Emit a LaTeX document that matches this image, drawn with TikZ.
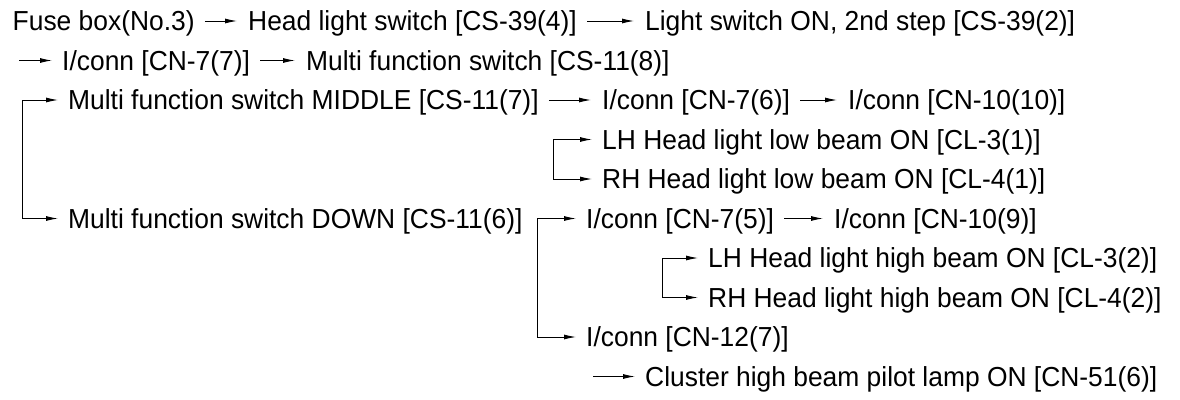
\documentclass[tikz,border=0pt]{standalone}
\usepackage{fontspec}
\setmainfont{Liberation Sans}[FakeStretch=0.96]
\usetikzlibrary{arrows.meta}
\begin{document}
\begin{tikzpicture}[x=1pt,y=-1pt,
  lbl/.style={inner sep=0pt,anchor=west,text height=19.6pt,text depth=0pt,font=\fontsize{27.5}{31}\selectfont},
  arr/.style={draw=black,line width=0.9pt,-{Latex[length=12pt,width=5pt]}},
  flow/.style={arr,shorten <=10pt,shorten >=11pt},
  tap/.style={arr,shorten >=10pt}]
\useasboundingbox (0,0) rectangle (1180,399);
\def\ya{21}\def\yb{60.5}\def\yc{100}\def\yd{139.5}\def\ye{179}
\def\yf{218.5}\def\yg{258}\def\yh{297.5}\def\yi{337}\def\yj{376.5}
% row 1
\node[lbl] (fuse) at (12.5,\ya) {Fuse box(No.3)};
\node[lbl] (hls) at (248,\ya) {Head light switch [CS-39(4)]};
\node[lbl] (lson) at (645,\ya) {Light switch ON, 2nd step [CS-39(2)]};
% row 2
\coordinate (s2) at (19,\yb);
\node[lbl] (c77) at (62,\yb) {I/conn [CN-7(7)]};
\node[lbl] (mfs8) at (306,\yb) {Multi function switch [CS-11(8)]};
% row 3
\coordinate (k1) at (22.7,\yc);
\node[lbl] (mid) at (68,\yc) {Multi function switch MIDDLE [CS-11(7)]};
\node[lbl] (c76) at (602,\yc) {I/conn [CN-7(6)]};
\node[lbl] (c1010) at (848,\yc) {I/conn [CN-10(10)]};
% rows 4-5
\coordinate (k3) at (553,\yd);
\node[lbl] (lhl) at (602,\yd) {LH Head light low beam ON [CL-3(1)]};
\node[lbl] (rhl) at (602,\ye) {RH Head light low beam ON [CL-4(1)]};
% row 6
\node[lbl] (down) at (68,\yf) {Multi function switch DOWN [CS-11(6)]};
\coordinate (k2) at (537,\yf);
\node[lbl] (c75) at (586,\yf) {I/conn [CN-7(5)]};
\node[lbl] (c109) at (834,\yf) {I/conn [CN-10(9)]};
% rows 7-8
\coordinate (k4) at (662,\yg);
\node[lbl] (lhh) at (708,\yg) {LH Head light high beam ON [CL-3(2)]};
\node[lbl] (rhh) at (708,\yh) {RH Head light high beam ON [CL-4(2)]};
% row 9
\node[lbl] (c127) at (586,\yi) {I/conn [CN-12(7)]};
% row 10
\coordinate (s10) at (593,\yj);
\node[lbl] (clu) at (645,\yj) {Cluster high beam pilot lamp ON [CN-51(6)]};
% connectors
\draw[flow] (fuse.east) -- (hls.west);
\draw[flow] (hls.east) -- (lson.west);
\draw[tap] (s2) -- (c77.west);
\draw[flow] (c77.east) -- (mfs8.west);
\draw[tap] (k1) -- (mid.west);
\draw[tap] (k1) |- (down.west);
\draw[flow] (mid.east) -- (c76.west);
\draw[flow] (c76.east) -- (c1010.west);
\draw[tap] (k3) -- (lhl.west);
\draw[tap] (k3) |- (rhl.west);
\draw[tap] (k2) -- (c75.west);
\draw[tap] (k2) |- (c127.west);
\draw[flow] (c75.east) -- (c109.west);
\draw[tap] (k4) -- (lhh.west);
\draw[tap] (k4) |- (rhh.west);
\draw[tap] (s10) -- (clu.west);
\end{tikzpicture}
\end{document}
